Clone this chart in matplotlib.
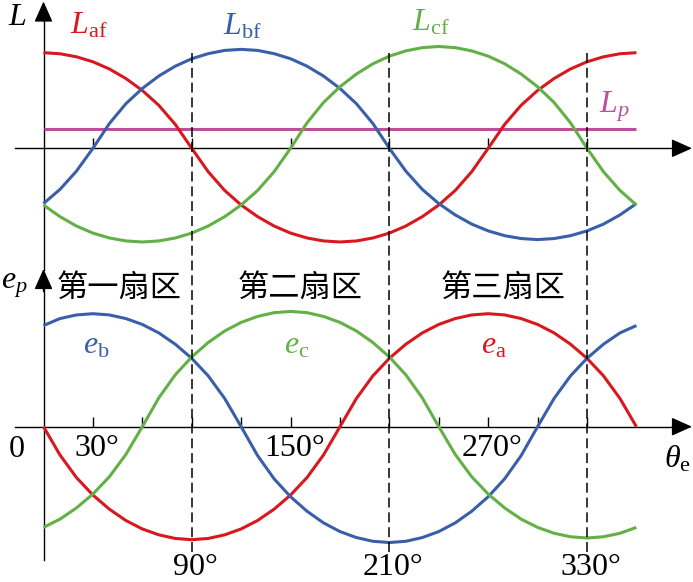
import matplotlib
matplotlib.use("Agg")
import matplotlib.pyplot as plt
import matplotlib.transforms as mtransforms
from matplotlib.lines import Line2D

plt.rcParams['font.family'] = ['Liberation Serif', 'DejaVu Serif']
plt.rcParams['mathtext.fontset'] = 'custom'
plt.rcParams['mathtext.rm'] = 'Liberation Serif'
plt.rcParams['mathtext.it'] = 'Liberation Serif:italic'
plt.rcParams['mathtext.bf'] = 'Liberation Serif:bold'

# ---------------- data ----------------
theta = list(range(0, 361, 10))  # electrical angle, degrees

L_af = [1.0, 0.989, 0.957, 0.905, 0.83, 0.73, 0.605, 0.45, 0.25, 0.0,
        -0.245, -0.441, -0.593, -0.715, -0.813, -0.887, -0.938, -0.969, -0.98,
        -0.969, -0.938, -0.887, -0.813, -0.715, -0.593, -0.441, -0.245, 0.0,
        0.25, 0.45, 0.605, 0.73, 0.83, 0.905, 0.957, 0.989, 1.0]
L_bf = [-0.578, -0.43, -0.239, 0.0, 0.259, 0.466, 0.626, 0.756, 0.859, 0.937,
        0.99, 1.024, 1.035, 1.024, 0.99, 0.937, 0.859, 0.756, 0.626,
        0.466, 0.259, 0.0, -0.239, -0.43, -0.578, -0.697, -0.793, -0.864,
        -0.914, -0.944, -0.955, -0.944, -0.914, -0.864, -0.793, -0.697, -0.578]
L_cf = [-0.593, -0.715, -0.813, -0.887, -0.938, -0.969, -0.98, -0.969, -0.938, -0.887,
        -0.813, -0.715, -0.593, -0.441, -0.245, 0.0, 0.266, 0.479, 0.644,
        0.777, 0.884, 0.964, 1.019, 1.053, 1.065, 1.053, 1.019, 0.964,
        0.884, 0.777, 0.644, 0.479, 0.266, 0.0, -0.245, -0.441, -0.593]
Lp_theta = [0, 360]
L_p = [0.20, 0.20]

e_a = [0.0, -0.25, -0.45, -0.605, -0.73, -0.83, -0.905, -0.957, -0.989, -1.0,
       -0.989, -0.957, -0.905, -0.83, -0.73, -0.605, -0.45, -0.25, 0.0,
       0.25, 0.45, 0.605, 0.73, 0.83, 0.905, 0.957, 0.989, 1.0,
       0.989, 0.957, 0.905, 0.83, 0.73, 0.605, 0.45, 0.25, 0.0]
e_b = [0.895, 0.957, 0.989, 1.0, 0.989, 0.957, 0.905, 0.83, 0.73, 0.605,
       0.45, 0.25, 0.0, -0.256, -0.461, -0.62, -0.748, -0.851, -0.928,
       -0.981, -1.014, -1.025, -1.014, -0.981, -0.928, -0.851, -0.748, -0.62,
       -0.461, -0.256, 0.0, 0.25, 0.45, 0.605, 0.73, 0.83, 0.895]
e_c = [-0.891, -0.818, -0.719, -0.596, -0.443, -0.246, 0.0, 0.255, 0.459, 0.617,
       0.745, 0.847, 0.923, 0.976, 1.009, 1.02, 1.009, 0.976, 0.923,
       0.847, 0.745, 0.617, 0.459, 0.255, 0.0, -0.246, -0.443, -0.596,
       -0.719, -0.818, -0.891, -0.943, -0.974, -0.985, -0.974, -0.943, -0.891]

top_ticks = [30, 90, 150, 210, 270, 330]
bot_ticks = [30, 60, 90, 120, 150, 180, 210, 240, 270, 300, 330]
sector_bounds = [90, 210, 330]
low_labels = [30, 150, 270]
high_labels = [90, 210, 330]
sectors = ['第一扇区', '第二扇区', '第三扇区']
sector_centers = [46, 156, 279]

RED = '#d7191f'
BLUE = '#3a5faa'
GREEN = '#62b046'
MAG = '#b8509c'

# ---------------- layout ----------------
W, H = 693, 582
fig = plt.figure(figsize=(W / 100, H / 100), dpi=100)
split = 270  # pixel row separating the two panels
ax_top = fig.add_axes([0, (H - split) / H, 1, split / H])
ax_bot = fig.add_axes([0, 0, 1, (H - split) / H])

x0px, pxdeg = 43.5, 1.647
xlim = (-x0px / pxdeg, (W - x0px) / pxdeg)
top_zero, top_unit = 148.3, 95.6
bot_zero, bot_unit = 426.7, 113.0
ax_top.set_xlim(*xlim)
ax_bot.set_xlim(*xlim)
ax_top.set_ylim(-(split - top_zero) / top_unit, top_zero / top_unit)
ax_bot.set_ylim(-(H - bot_zero) / bot_unit, (bot_zero - split) / bot_unit)
for ax in (ax_top, ax_bot):
    ax.axis('off')

lw = 2.2
style = dict(lw=lw, solid_capstyle='butt', solid_joinstyle='round', zorder=3)
ax_top.plot(theta, L_af, color=RED, **style)
ax_top.plot(theta, L_bf, color=BLUE, **style)
ax_top.plot(theta, L_cf, color=GREEN, **style)
ax_top.plot(Lp_theta, L_p, color=MAG, lw=lw, solid_capstyle='butt', zorder=2)

ax_bot.plot(theta, e_a, color=RED, **style)
ax_bot.plot(theta, e_b, color=BLUE, **style)
ax_bot.plot(theta, e_c, color=GREEN, **style)

# ---------------- axes lines & arrows ----------------
alw = 1.0
arrow = dict(arrowstyle='-|>,head_length=0.85,head_width=0.38', color='black',
             lw=1.0, shrinkA=0, shrinkB=0, mutation_scale=15)

x_tip = (692 - x0px) / pxdeg
x_start = (15 - x0px) / pxdeg

# top panel
ax_top.plot([x_start, x_tip - 5], [0, 0], color='black', lw=alw, zorder=1)
ax_top.annotate('', xy=(x_tip, 0), xytext=(x_tip - 12, 0), arrowprops=arrow,
                annotation_clip=False)
yt_tip = (top_zero - 1.5) / top_unit
ax_top.plot([0, 0], [ax_top.get_ylim()[0], yt_tip - 0.08], color='black', lw=alw,
            zorder=1, clip_on=False)
ax_top.annotate('', xy=(0, yt_tip), xytext=(0, yt_tip - 0.2), arrowprops=arrow,
                annotation_clip=False)
ax_top.vlines(top_ticks, 0, 10 / top_unit, color='black', lw=alw, zorder=1)

# bottom panel
ax_bot.plot([x_start, x_tip - 5], [0, 0], color='black', lw=alw, zorder=1)
ax_bot.annotate('', xy=(x_tip, 0), xytext=(x_tip - 12, 0), arrowprops=arrow,
                annotation_clip=False)
yb_tip = (bot_zero - 269) / bot_unit
yb_bot = -(560 - bot_zero) / bot_unit
ax_bot.plot([0, 0], [yb_bot, yb_tip - 0.07], color='black', lw=alw, zorder=1, clip_on=False)
ax_bot.annotate('', xy=(0, yb_tip), xytext=(0, yb_tip - 0.2), arrowprops=arrow,
                annotation_clip=False)
ax_bot.vlines(bot_ticks, 0, 10 / bot_unit, color='black', lw=alw, zorder=1)

# dashed sector boundaries across both panels
trans = mtransforms.blended_transform_factory(ax_top.transData, fig.transFigure)
for b in sector_bounds:
    fig.add_artist(Line2D([b, b], [1 - 53 / H, 1 - 552 / H], transform=trans,
                          color='black', lw=1.1, dashes=(6.5, 3.2), zorder=1))

# ---------------- text ----------------
fs = 23
cjk = ['Noto Sans CJK SC', 'DejaVu Sans']
ax_top.text(-16.1, 1.37, r'$L$', fontsize=fs, ha='center', va='center', color='black')
ax_top.text(27.5, 1.28, r'$L_{\mathrm{af}}$', fontsize=fs, ha='center', va='center', color=RED)
ax_top.text(121, 1.27, r'$L_{\mathrm{bf}}$', fontsize=fs, ha='center', va='center', color=BLUE)
ax_top.text(235, 1.31, r'$L_{\mathrm{cf}}$', fontsize=fs, ha='center', va='center', color=GREEN)
ax_top.text(346.5, 0.43, r'$L_p$', fontsize=fs, ha='center', va='center', color=MAG)

ax_bot.text(-17.5, 1.25, r'$e_p$', fontsize=fs, ha='center', va='center', color='black')
for s, c in zip(sectors, sector_centers):
    ax_bot.text(c, 1.225, s, fontsize=22.5, family=cjk, ha='center', va='center', color='black')
ax_bot.text(32, 0.71, r'$e_{\mathrm{b}}$', fontsize=fs, ha='center', va='center', color=BLUE)
ax_bot.text(154, 0.71, r'$e_{\mathrm{c}}$', fontsize=fs, ha='center', va='center', color=GREEN)
ax_bot.text(273.5, 0.71, r'$e_{\mathrm{a}}$', fontsize=fs, ha='center', va='center', color=RED)

ax_bot.text(-16.1, -0.20, '0', fontsize=fs, ha='center', va='center', color='black')
for t in low_labels:
    ax_bot.text(t + 2.5, -0.19, f'{t}°', fontsize=fs, ha='center', va='center', color='black')
for t in high_labels:
    ax_bot.text(t + 2.5, -1.25, f'{t}°', fontsize=fs, ha='center', va='center', color='black')
ax_bot.text(385, -0.29, r'$\theta_{\mathrm{e}}$', fontsize=fs, ha='center', va='center', color='black')

fig.savefig('out.png', dpi=100)
